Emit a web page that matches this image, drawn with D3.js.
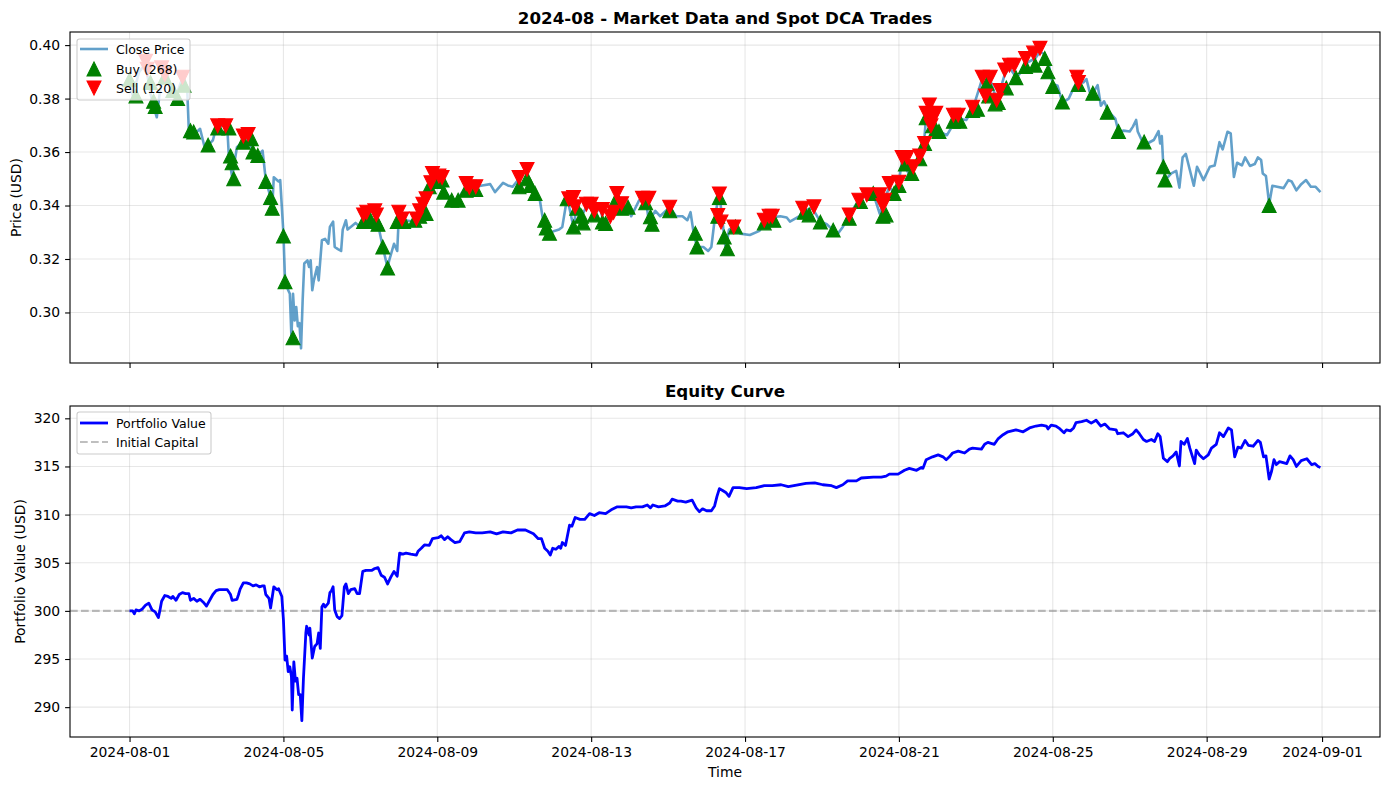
<!DOCTYPE html>
<html>
<head>
<meta charset="utf-8">
<script src="https://cdn.jsdelivr.net/npm/d3@7"></script>
<style>
  body { margin: 0; background: #fff; }
  svg text { font-family: "DejaVu Sans", sans-serif; }
</style>
</head>
<body>
<script>
// ---- data (hours since 2024-08-01 00:00 UTC) ----
const xTickLabels = ["2024-08-01", "2024-08-05", "2024-08-09", "2024-08-13", "2024-08-17",
                     "2024-08-21", "2024-08-25", "2024-08-29", "2024-09-01"];
const priceTicks = [0.30, 0.32, 0.34, 0.36, 0.38, 0.40];
const equityTicks = [290, 295, 300, 305, 310, 315, 320];
const initialCapital = 300;
const buyCount = 268, sellCount = 120;

const priceHours = [0,2,6,10,13,15,17,19,22,25,29,32,34,36,37,41,44,47,49,52,54,58,61,62,64,67,71,74,77,80,83,85,88,89,90,93,94,
  96,97,99,100,101,102,103,104,105,106,107,108,109,111,112,113,114,115,117,118,120,122,124,125,127,128,130,132,133,135,136,138,141,144,
  146,151,155,158,161,162,165,167,168,172,177,180,183,187,189,193,196,201,204,210,216,220,225,228,233,236,239,243,247,250,253,256,258,
  260,262,265,268,270,273,277,279,282,285,289,294,296,300,304,307,311,313,318,322,324,328,331,337,341,345,348,350,352,354,358,361,363,
  365,367,368,370,371,372,374,377,381,387,393,396,400,406,410,412,418,420,426,431,435,439,442,445,449,455,460,464,468,471,474,477,480,
  482,486,489,493,496,497,499,501,503,505,510,516,522,526,532,534,537,541,543,546,549,552,555,560,565,568,571,573,576,579,582,586,589,
  591,595,597,599,601,604,606,608,611,615,617,620,624,626,628,629,632,635,639,642,643,644,645,646,650,653,655,657,659,661,664,666,668,
  670,674,677,680,682,685,687,689,691,694,696,699,702,704,706,707,709,711,713,716,720,723,725,728,731,734,737,740,743];
const priceValues = [0.387,0.381,0.390,0.393,0.382,0.377,0.373,0.383,0.392,0.386,0.381,0.386,0.388,0.383,0.368,0.367,0.3687,0.3614,
  0.3626,0.3644,0.369,0.370,0.369,0.358,0.3507,0.3618,0.364,0.3655,0.360,0.3587,0.3605,0.3495,0.343,0.339,0.3506,0.349,0.3495,
  0.3296,0.312,0.3083,0.307,0.2909,0.307,0.297,0.302,0.2949,0.296,0.2866,0.3046,0.3183,0.3195,0.317,0.3195,0.3083,0.312,0.317,0.312,
  0.327,0.3275,0.3257,0.332,0.334,0.3245,0.3237,0.323,0.331,0.3345,0.331,0.332,0.3335,0.332,
  0.335,0.335,0.333,0.3245,0.3166,0.3195,0.3257,0.323,0.336,0.3345,0.334,0.336,0.3427,0.3455,0.352,0.350,0.346,0.342,0.342,0.347,0.347,
  0.3475,0.348,0.345,0.3485,0.3475,0.347,0.350,0.353,0.3485,0.3445,0.342,0.3345,
  0.3316,0.3296,0.3305,0.331,0.332,0.343,0.332,0.340,0.336,0.3395,0.339,0.338,0.3333,0.336,0.3444,0.3407,0.3394,0.336,0.342,0.3427,
  0.334,0.338,0.336,0.3394,0.336,0.336,0.3345,0.3375,0.3295,0.3245,0.3245,0.323,0.3245,
  0.3345,0.342,0.3443,0.334,0.328,0.3238,0.331,0.332,0.3295,0.329,0.3305,0.3335,0.3355,0.336,0.3355,0.334,0.336,0.338,0.339,0.334,
  0.333,0.3308,0.3295,0.332,0.3365,0.342,0.344,0.3445,0.337,0.342,0.347,0.3445,0.349,
  0.357,0.352,0.3545,0.3585,0.366,0.3735,0.377,0.370,0.3685,0.3677,0.3663,0.3725,0.372,0.376,0.3875,0.381,0.387,0.3794,0.383,0.389,
  0.3915,0.389,0.389,0.3935,0.395,0.3975,0.3965,0.394,0.3855,0.3848,0.3785,0.380,0.384,
  0.386,0.386,0.3873,0.3825,0.382,0.385,0.3773,0.379,0.375,0.3725,0.3677,0.368,0.3677,0.3695,0.372,0.3677,0.3638,0.3632,0.3645,
  0.3678,0.3632,0.366,0.3545,0.3495,0.352,0.353,0.3467,0.358,0.3593,0.3545,0.3474,0.3545,0.352,
  0.3495,0.3545,0.355,0.3637,0.361,0.3676,0.367,0.3507,0.356,0.355,0.358,0.3548,0.3555,0.358,0.357,0.352,0.351,0.3405,0.3474,0.347,
  0.3465,0.3495,0.349,0.3457,0.348,0.3495,0.347,0.347,0.345];

const equityHours = [0,2,3,4,6,8,10,12,14,16,18,19,20,22,24,26,27,29,31,33,35,37,38,40,42,44,46,48,50,52,54,56,58,61,63,64,67,68,69,
  71,73,75,77,79,81,83,84,85,87,88,90,92,93,95,96,97,98,99,100,101,101.5,102.5,103.5,104.5,105.5,106.5,107.5,108.5,110,110.5,112,112.5,
  114,115.5,117,118,119,120,121,122,124,125,126,127,128,129.5,131,132.5,134,135,136.5,138,140.5,142,143.5,145.5,147.5,151,153,155,157,
  159,161,163,165,167,168.5,170.5,172.5,175.5,179,180,182,184,187,189,192.5,194.5,196.5,198.5,200.5,203,206,209,212,216,220,225,229,
  233,238,242,247,252,255,257,259,261,262.5,264,266,268,269,270,272,274.5,276,278,281,284,287,290,293,297,300.5,304,310,313,316,320,
  323,325,326.5,330,334,337,338.5,342,344,347,351,353.5,355.5,357.5,360,363,365,366.5,368,370,372,374,376.5,380.5,385,391,396,401,
  406.5,411,417,422,427.5,432.5,438,441,445,448,453.5,456.5,464,469,472,474,479.5,483.5,486.5,491,494,495,497,501,504.5,507.5,509.5,
  511.5,513.5,517,521,524,526,531.5,533.5,535.5,539.5,542,545,548,553,557.5,561.5,565.5,569,572,573,575,578,580.5,583,584.5,587,589,
  590.5,594,597,600,603,606,608.5,611.5,615.5,616.5,620,623,626,628,630,632.5,634.5,637.5,639.5,641.5,643,645,647.5,649,651,653,655,
  656,658,660,661.5,663,664.5,665.5,667.5,670,673,675,678,680,682.5,685.5,687.5,689.5,691.5,693.5,696,698,701,704,705.5,707.5,709,
  711,712.5,714,715.5,717.5,722,724,726,728,731,734.5,737.5,739.5,741.5,743];
const equityValues = [300.0,300.0,299.7,300.1,300.0,300.2,300.6,300.8,300.1,299.9,299.3,300.1,301.0,301.6,301.5,301.3,301.5,301.1,
  301.7,301.9,301.8,301.8,301.1,301.3,301.0,301.2,300.9,300.5,301.1,301.7,302.1,302.2,302.2,302.2,301.7,301.1,301.2,301.7,302.25,
  302.9,302.9,302.8,302.6,302.7,302.5,302.6,302.6,301.7,301.3,300.3,302.5,302.2,302.3,301.5,299.1,294.9,295.3,293.7,294.2,293.2,
  289.7,294.7,292.7,293.0,291.3,291.3,288.6,293.0,297.7,298.4,297.5,298.2,
  295.1,296.3,296.6,297.7,296.1,300.4,300.7,300.4,300.8,301.9,302.1,302.5,300.1,299.4,299.2,299.5,302.5,302.8,301.8,302.2,302.3,
  301.8,301.8,304.1,304.2,304.2,304.4,304.5,303.7,
  303.5,302.8,303.5,304.1,303.6,306.0,305.9,306.0,305.9,305.8,306.2,306.5,306.85,306.8,307.5,307.6,307.8,307.4,307.7,307.4,307.1,
  307.2,308.1,308.2,308.1,308.1,308.2,308.0,
  308.2,308.1,308.4,308.4,308.0,307.5,307.5,306.5,306.2,305.8,306.5,306.4,306.7,306.5,307.1,306.8,308.9,308.8,309.7,309.5,309.5,
  310.1,309.9,310.2,310.1,310.5,310.8,310.8,310.7,310.8,310.8,
  311.0,310.7,311.0,310.8,310.9,311.2,311.6,311.4,311.4,311.3,311.5,310.7,310.3,310.6,310.4,310.4,310.9,311.9,312.7,312.5,312.3,
  311.9,312.8,312.8,312.7,312.8,313.0,313.0,
  313.1,312.9,313.1,313.25,313.3,313.1,313.0,312.8,313.1,313.5,313.5,313.8,313.9,313.9,314.0,314.2,314.2,314.6,314.8,314.6,314.9,
  314.8,315.7,316.0,316.2,316.0,315.7,
  316.0,316.4,316.6,316.4,316.8,316.9,316.8,317.3,317.5,317.3,317.9,318.3,318.6,318.8,318.6,319.0,319.2,319.3,319.2,318.9,319.3,
  319.2,318.9,318.5,318.8,318.7,319.0,
  319.55,319.65,319.8,319.5,319.8,319.2,319.4,318.9,318.8,318.4,318.5,318.1,318.4,318.8,318.4,317.8,317.6,317.8,317.6,318.4,318.1,
  315.85,315.5,315.85,316.1,316.5,315.05,
  317.6,317.3,317.9,316.9,316.1,315.3,316.7,316.2,315.8,316.2,316.9,317.3,318.5,318.1,319.0,318.8,316.0,317.0,316.9,317.7,317.2,
  317.1,317.7,317.5,316.0,316.1,
  313.7,314.5,315.7,315.2,315.5,315.3,316.1,315.7,315.0,315.6,315.8,315.2,315.3,315.0,314.9];

const buyHours = [0,4,13,15,16,22,27,30,34,38,40,49,55,62,63,64,65,71,76,77,80,85,88,89,96,97,102,146,150,154,155,158,161,167,171,
  178,181,185,187,191,195,196,201,205,210,216,243,248,250,253,259,260,262,273,277,279,282,283,290,295,297,304,307,311,322,325,326,
  337,353,354,367,368,371,373,378,396,402,421,424,431,439,449,456,464,470,472,477,480,484,488,493,496,497,501,503,505,514,518,526,
  529,535,536,540,542,547,553,559,565,571,573,576,582,592,601,610,617,633,645,646,711];
const buyPrices = [0.387,0.381,0.386,0.379,0.377,0.388,0.383,0.380,0.385,0.368,0.3675,0.3626,0.369,0.369,0.3585,0.356,0.350,0.3637,
  0.365,0.360,0.3587,0.349,0.343,0.339,0.3286,0.3115,0.2905,0.334,0.335,0.334,0.333,0.3245,0.3166,0.334,0.334,0.3345,0.336,0.337,
  0.347,0.349,0.3495,0.345,0.342,0.342,0.3457,0.346,0.347,0.350,0.3475,0.3445,0.3345,0.3316,0.3296,0.3425,0.332,0.339,0.336,0.3335,
  0.3365,0.3338,0.3333,0.3427,0.339,0.3394,0.341,0.3358,0.333,0.338,0.3296,0.3245,0.336,0.343,0.3282,0.3238,0.332,0.3335,0.3345,
  0.3375,0.3365,0.3338,0.3308,0.3352,0.3415,0.3445,0.336,0.3365,0.3445,0.3475,0.3555,0.352,0.3575,0.3632,0.3728,0.3698,0.3685,
  0.3677,0.3715,0.3715,0.3755,0.376,0.3857,0.381,0.378,0.3785,0.384,0.3878,0.392,0.3925,0.395,0.390,0.3845,0.3787,0.3853,0.382,
  0.3749,0.3677,0.3638,0.3545,0.3495,0.340];

const sellHours = [10,11,20,22,33,55,60,71,74,146,148,153,154,168,170,179,181,183,185,188,189,193,195,210,212,216,243,248,274,277,
  278,285,288,290,295,300,302,304,307,320,324,337,367,368,369,377,396,399,401,420,427,449,455,460,468,470,471,474,480,482,485,489,
  493,496,497,499,500,501,503,514,517,526,532,534,537,541,543,546,549,552,559,564,568,591,592];
const sellPrices = [0.394,0.391,0.3915,0.389,0.388,0.3698,0.3698,0.366,0.3666,0.3365,0.3375,0.338,0.3365,0.3375,0.335,0.335,0.338,
  0.3405,0.3425,0.3485,0.352,0.351,0.3505,0.3482,0.3468,0.347,0.3505,0.3535,0.3425,0.343,0.3395,0.3405,0.3405,0.338,0.3385,0.336,
  0.3375,0.3445,0.3407,0.3427,0.3427,0.3394,0.3363,0.3443,0.3338,0.332,0.3345,0.336,0.336,0.339,0.3395,0.3365,0.342,0.344,0.344,
  0.340,0.342,0.3482,0.3487,0.358,0.358,0.3545,0.3585,0.3632,0.3745,0.3776,0.3698,0.3725,0.3745,0.3738,0.3738,0.3768,0.388,0.381,
  0.388,0.3794,0.383,0.3907,0.3925,0.3925,0.395,0.397,0.3988,0.388,0.386];

// ---- layout ----
const startTime = Date.UTC(2024, 7, 1);
const toDate = h => new Date(startTime + h * 3600e3);

var width = 1389, height = 790;
var left = 70, right = 1380;
var top1 = 32, bottom1 = 363;
var top2 = 406, bottom2 = 737;
var fontSize = 13.9;

var svg = d3.select("body").append("svg")
    .attr("width", width)
    .attr("height", height);

// 5% margin on both ends of the time range, like matplotlib autoscale
var span = priceHours[priceHours.length - 1] - priceHours[0];
var x = d3.scaleUtc()
    .domain([toDate(-0.05 * span), toDate(span * 1.05)])
    .range([left, right]);
var yPrice = d3.scaleLinear().domain([0.2811, 0.4049]).range([bottom1, top1]);
var yEquity = d3.scaleLinear().domain([286.9, 321.28]).range([bottom2, top2]);

var xTicks = xTickLabels.map(s => new Date(s + "T00:00:00Z"));

// clip paths for both panels
var defs = svg.append("defs");
defs.append("clipPath").attr("id", "clip1").append("rect")
    .attr("x", left).attr("y", top1).attr("width", right - left).attr("height", bottom1 - top1);
defs.append("clipPath").attr("id", "clip2").append("rect")
    .attr("x", left).attr("y", top2).attr("width", right - left).attr("height", bottom2 - top2);

function drawGrid(y, yTicks, top, bottom) {
  var g = svg.append("g").attr("stroke", "#b0b0b0").attr("stroke-opacity", 0.3).attr("stroke-width", 1.1);
  g.selectAll(".vg").data(xTicks).enter().append("line")
      .attr("x1", d => x(d)).attr("x2", d => x(d))
      .attr("y1", top).attr("y2", bottom);
  g.selectAll(".hg").data(yTicks).enter().append("line")
      .attr("x1", left).attr("x2", right)
      .attr("y1", d => y(d)).attr("y2", d => y(d));
}

function drawAxes(y, yTicks, yFormat, top, bottom, showDates) {
  var xAxis = d3.axisBottom(x)
      .tickValues(xTicks)
      .tickSize(4.9)
      .tickPadding(4.9)
      .tickFormat(showDates ? d3.utcFormat("%Y-%m-%d") : "");
  var gx = svg.append("g")
      .attr("transform", "translate(0," + bottom + ")")
      .call(xAxis);
  var yAxis = d3.axisLeft(y)
      .tickValues(yTicks)
      .tickSize(4.9)
      .tickPadding(4.9)
      .tickFormat(yFormat);
  var gy = svg.append("g")
      .attr("transform", "translate(" + left + ",0)")
      .call(yAxis);
  [gx, gy].forEach(function(g) {
    g.attr("font-size", fontSize).attr("font-family", null);
    g.select(".domain").remove();
    g.selectAll(".tick line").attr("stroke", "#000").attr("stroke-width", 1.1);
    g.selectAll(".tick text").attr("fill", "#000");
  });
  // frame
  svg.append("rect")
      .attr("x", left).attr("y", top)
      .attr("width", right - left).attr("height", bottom - top)
      .attr("fill", "none").attr("stroke", "#000").attr("stroke-width", 1.1);
}

function triangle(size, up) {
  var h = size / 2;
  return up ? "M0," + (-h) + "L" + h + "," + h + "L" + (-h) + "," + h + "Z"
            : "M0," + h + "L" + h + "," + (-h) + "L" + (-h) + "," + (-h) + "Z";
}

function legendBox(x0, y0, w, h) {
  svg.append("rect")
      .attr("x", x0).attr("y", y0).attr("width", w).attr("height", h)
      .attr("rx", 2.5).attr("ry", 2.5)
      .attr("fill", "#fff").attr("fill-opacity", 0.8)
      .attr("stroke", "#cccccc").attr("stroke-width", 1.1);
}

// ---- top panel: price and trades ----
drawGrid(yPrice, priceTicks, top1, bottom1);

var priceLine = d3.line()
    .x(d => x(toDate(d[0])))
    .y(d => yPrice(d[1]));

svg.append("path")
    .datum(d3.zip(priceHours, priceValues))
    .attr("clip-path", "url(#clip1)")
    .attr("fill", "none")
    .attr("stroke", "#1f77b4")
    .attr("stroke-opacity", 0.7)
    .attr("stroke-width", 2.6)
    .attr("stroke-linejoin", "round")
    .attr("d", priceLine);

var markerSize = 13.9;
svg.append("g").selectAll("path")
    .data(d3.zip(buyHours, buyPrices))
    .enter().append("path")
    .attr("transform", d => "translate(" + x(toDate(d[0])) + "," + yPrice(d[1]) + ")")
    .attr("d", triangle(markerSize, true))
    .attr("fill", "green").attr("stroke", "green").attr("stroke-width", 1.1);

svg.append("g").selectAll("path")
    .data(d3.zip(sellHours, sellPrices))
    .enter().append("path")
    .attr("transform", d => "translate(" + x(toDate(d[0])) + "," + yPrice(d[1]) + ")")
    .attr("d", triangle(markerSize, false))
    .attr("fill", "red").attr("stroke", "red").attr("stroke-width", 1.1);

drawAxes(yPrice, priceTicks, d3.format(".2f"), top1, bottom1, false);

svg.append("text")
    .attr("x", (left + right) / 2).attr("y", 24)
    .attr("text-anchor", "middle")
    .style("font-size", "16.7px").style("font-weight", "bold")
    .text("2024-08 - Market Data and Spot DCA Trades");

svg.append("text")
    .attr("transform", "translate(21," + ((top1 + bottom1) / 2) + ") rotate(-90)")
    .attr("text-anchor", "middle")
    .style("font-size", fontSize + "px")
    .text("Price (USD)");

// legend for top panel
legendBox(77, 39, 113, 61);
svg.append("line")
    .attr("x1", 80).attr("x2", 108).attr("y1", 49).attr("y2", 49)
    .attr("stroke", "#1f77b4").attr("stroke-opacity", 0.7).attr("stroke-width", 2.6);
svg.append("path")
    .attr("transform", "translate(94,69)")
    .attr("d", triangle(markerSize, true))
    .attr("fill", "green").attr("stroke", "green").attr("stroke-width", 1.1);
svg.append("path")
    .attr("transform", "translate(94,88)")
    .attr("d", triangle(markerSize, false))
    .attr("fill", "red").attr("stroke", "red").attr("stroke-width", 1.1);
[["Close Price", 49], ["Buy (" + buyCount + ")", 69], ["Sell (" + sellCount + ")", 88]].forEach(function(e) {
  svg.append("text")
      .attr("x", 116).attr("y", e[1] + 4.5)
      .style("font-size", "12.5px")
      .text(e[0]);
});

// ---- bottom panel: equity curve ----
drawGrid(yEquity, equityTicks, top2, bottom2);

svg.append("line")
    .attr("clip-path", "url(#clip2)")
    .attr("x1", left).attr("x2", right)
    .attr("y1", yEquity(initialCapital)).attr("y2", yEquity(initialCapital))
    .attr("stroke", "gray").attr("stroke-opacity", 0.5)
    .attr("stroke-width", 2.1)
    .attr("stroke-dasharray", "7.7,3.3");

var equityLine = d3.line()
    .x(d => x(toDate(d[0])))
    .y(d => yEquity(d[1]));

svg.append("path")
    .datum(d3.zip(equityHours, equityValues))
    .attr("clip-path", "url(#clip2)")
    .attr("fill", "none")
    .attr("stroke", "blue")
    .attr("stroke-width", 2.8)
    .attr("stroke-linejoin", "round")
    .attr("d", equityLine);

drawAxes(yEquity, equityTicks, d3.format("d"), top2, bottom2, true);

svg.append("text")
    .attr("x", (left + right) / 2).attr("y", 396.5)
    .attr("text-anchor", "middle")
    .style("font-size", "16.7px").style("font-weight", "bold")
    .text("Equity Curve");

svg.append("text")
    .attr("transform", "translate(25," + ((top2 + bottom2) / 2) + ") rotate(-90)")
    .attr("text-anchor", "middle")
    .style("font-size", fontSize + "px")
    .text("Portfolio Value (USD)");

svg.append("text")
    .attr("x", (left + right) / 2).attr("y", 777)
    .attr("text-anchor", "middle")
    .style("font-size", fontSize + "px")
    .text("Time");

// legend for bottom panel
legendBox(77, 412, 134, 42);
svg.append("line")
    .attr("x1", 80).attr("x2", 108).attr("y1", 423).attr("y2", 423)
    .attr("stroke", "blue").attr("stroke-width", 2.8);
svg.append("line")
    .attr("x1", 80).attr("x2", 108).attr("y1", 442).attr("y2", 442)
    .attr("stroke", "gray").attr("stroke-opacity", 0.5).attr("stroke-width", 2.1)
    .attr("stroke-dasharray", "7.7,3.3");
[["Portfolio Value", 423], ["Initial Capital", 442]].forEach(function(e) {
  svg.append("text")
      .attr("x", 116).attr("y", e[1] + 4.5)
      .style("font-size", "12.5px")
      .text(e[0]);
});
</script>
</body>
</html>
